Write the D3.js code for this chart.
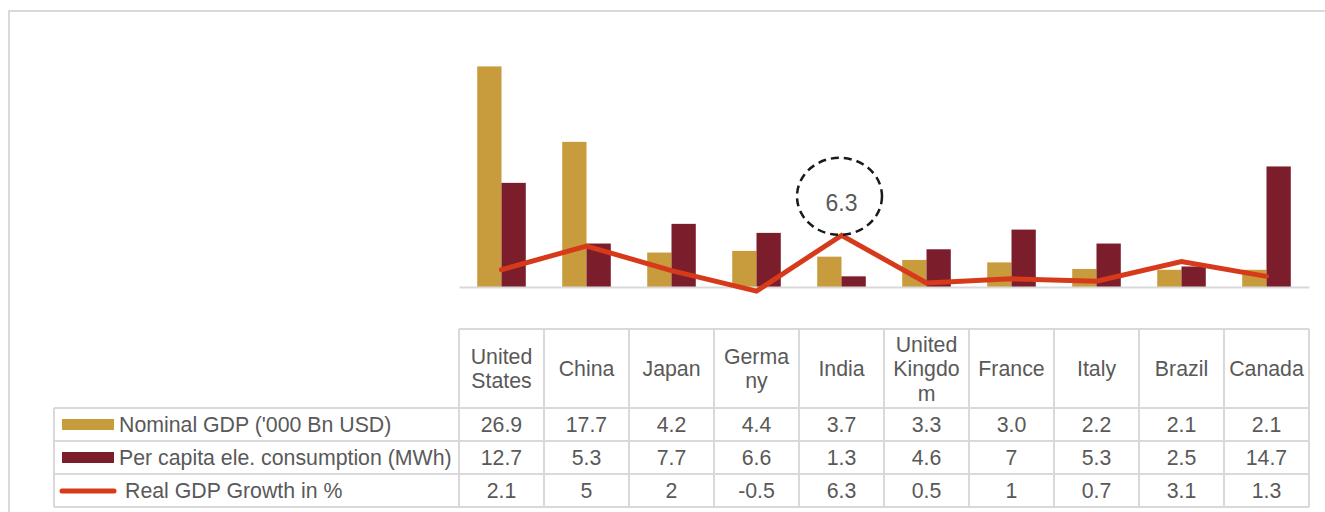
<!DOCTYPE html>
<html>
<head>
<meta charset="utf-8">
<script src="https://cdn.jsdelivr.net/npm/d3@7"></script>
<style>
  html, body { margin: 0; padding: 0; background: #ffffff; }
  svg { display: block; font-family: "Liberation Sans", Arial, sans-serif; }
</style>
</head>
<body>
<svg id="chart" width="1325" height="512"></svg>
<script>
// Countries, with their header lines as wrapped in the table
const countries = ["United States", "China", "Japan", "Germany", "India",
                   "United Kingdom", "France", "Italy", "Brazil", "Canada"];
const headerLines = [["United", "States"], ["China"], ["Japan"], ["Germa", "ny"], ["India"],
                     ["United", "Kingdo", "m"], ["France"], ["Italy"], ["Brazil"], ["Canada"]];

// Series values
const nominalGdp = [26.9, 17.7, 4.2, 4.4, 3.7, 3.3, 3.0, 2.2, 2.1, 2.1];
const perCapitaEle = [12.7, 5.3, 7.7, 6.6, 1.3, 4.6, 7, 5.3, 2.5, 14.7];
const realGdpGrowth = [2.1, 5, 2, -0.5, 6.3, 0.5, 1, 0.7, 3.1, 1.3];

const seriesNames = ["Nominal GDP ('000 Bn USD)", "Per capita ele. consumption (MWh)", "Real GDP Growth in %"];
const highlight = { country: "India", value: 6.3 };

const colors = { gdp: "#c89b3c", ele: "#7b1d2b", growth: "#d63a1a" };
const gridColor = "#d9d9d9";
const textColor = "#595959";
const fontSize = 21.3;

const svg = d3.select("#chart");

// Frame around the whole graphic
svg.append("rect")
  .attr("x", 9).attr("y", 11).attr("width", 1330).attr("height", 520)
  .attr("fill", "none").attr("stroke", gridColor).attr("stroke-width", 2);

// Scales
const x0 = d3.scaleBand().domain(countries).range([459, 1309]).paddingInner(0).paddingOuter(0);
const x1 = d3.scaleBand().domain(["gdp", "ele"]).range([0, x0.bandwidth()]).paddingInner(0).paddingOuter(0.75);
const y = d3.scaleLinear().domain([0, 30]).range([287, 41]);

// Bars
const plot = svg.append("g");
const barData = countries.map((c, i) => ({ c, gdp: nominalGdp[i], ele: perCapitaEle[i] }));
const groups = plot.selectAll("g.grp").data(barData).join("g")
  .attr("class", "grp")
  .attr("transform", d => `translate(${x0(d.c)},0)`);
groups.selectAll("rect").data(d => ["gdp", "ele"].map(k => ({ k, v: d[k] }))).join("rect")
  .attr("x", d => x1(d.k))
  .attr("width", x1.bandwidth())
  .attr("y", d => y(Math.max(0, d.v)))
  .attr("height", d => Math.abs(y(d.v) - y(0)))
  .attr("fill", d => colors[d.k]);

// Category axis line
const xAxis = plot.append("g").attr("transform", `translate(0,${y(0)})`)
  .call(d3.axisBottom(x0).tickSize(0).tickFormat(""));
xAxis.select(".domain").attr("stroke", gridColor).attr("stroke-width", 2);

// Growth line
const lineGen = d3.line()
  .x((d, i) => x0(countries[i]) + x0.bandwidth() / 2)
  .y(d => y(d));
plot.append("path")
  .datum(realGdpGrowth)
  .attr("d", lineGen)
  .attr("fill", "none")
  .attr("stroke", colors.growth)
  .attr("stroke-width", 5)
  .attr("stroke-linejoin", "miter")
  .attr("stroke-linecap", "round");

// Callout on the highest growth value
const hx = x0(highlight.country) + x0.bandwidth() / 2 - 2;
const hy = y(highlight.value) - 39;
plot.append("ellipse")
  .attr("cx", hx).attr("cy", hy).attr("rx", 42.5).attr("ry", 38.5)
  .attr("fill", "none").attr("stroke", "#1a1a1a")
  .attr("stroke-width", 2.5).attr("stroke-dasharray", "8,5");
plot.append("text")
  .attr("x", hx + 2).attr("y", hy + 15)
  .attr("text-anchor", "middle")
  .attr("font-size", 23).attr("fill", textColor)
  .text(highlight.value.toFixed(1));

// Data table
const table = svg.append("g");
const headerTop = 329, rowTop = 408, rowH = 33, tableLeft = 54;
const tableRight = x0.range()[1];
const rows = [
  { name: seriesNames[0], values: nominalGdp.map(v => v.toFixed(1)), key: "gdp" },
  { name: seriesNames[1], values: perCapitaEle.map(v => String(v)), key: "ele" },
  { name: seriesNames[2], values: realGdpGrowth.map(v => String(v)), key: "growth" }
];
const tableBottom = rowTop + rowH * rows.length;

const line = (x1_, y1_, x2_, y2_) => table.append("line")
  .attr("x1", x1_).attr("y1", y1_).attr("x2", x2_).attr("y2", y2_)
  .attr("stroke", gridColor).attr("stroke-width", 2);

// horizontal rules
line(x0.range()[0], headerTop, tableRight, headerTop);
for (let r = 0; r <= rows.length; r++) line(tableLeft, rowTop + r * rowH, tableRight, rowTop + r * rowH);
// vertical rules
line(tableLeft, rowTop, tableLeft, tableBottom);
countries.forEach(c => line(x0(c), headerTop, x0(c), tableBottom));
line(tableRight, headerTop, tableRight, tableBottom);

// header labels
const lh = 24.5;
countries.forEach((c, i) => {
  const lines = headerLines[i];
  const cx = x0(c) + x0.bandwidth() / 2;
  const mid = (headerTop + rowTop) / 2;
  const t = table.append("text")
    .attr("text-anchor", "middle").attr("font-size", fontSize).attr("fill", textColor);
  lines.forEach((s, j) => {
    t.append("tspan").attr("x", cx)
      .attr("y", mid + (j - (lines.length - 1) / 2) * lh + 7.5)
      .text(s);
  });
});

// rows
rows.forEach((row, r) => {
  const top = rowTop + r * rowH;
  const base = top + rowH / 2 + 7.5;
  if (row.key === "growth") {
    table.append("line")
      .attr("x1", 62).attr("x2", 114).attr("y1", top + rowH / 2 + 0.5).attr("y2", top + rowH / 2 + 0.5)
      .attr("stroke", colors.growth).attr("stroke-width", 5).attr("stroke-linecap", "round");
  } else {
    table.append("rect")
      .attr("x", 62).attr("y", top + 11).attr("width", 52).attr("height", 11)
      .attr("fill", colors[row.key]);
  }
  table.append("text")
    .attr("x", row.key === "growth" ? 125 : 119).attr("y", base)
    .attr("font-size", fontSize).attr("fill", textColor)
    .text(row.name);
  row.values.forEach((v, i) => {
    table.append("text")
      .attr("x", x0(countries[i]) + x0.bandwidth() / 2).attr("y", base)
      .attr("text-anchor", "middle").attr("font-size", fontSize).attr("fill", textColor)
      .text(v);
  });
});
</script>
</body>
</html>
